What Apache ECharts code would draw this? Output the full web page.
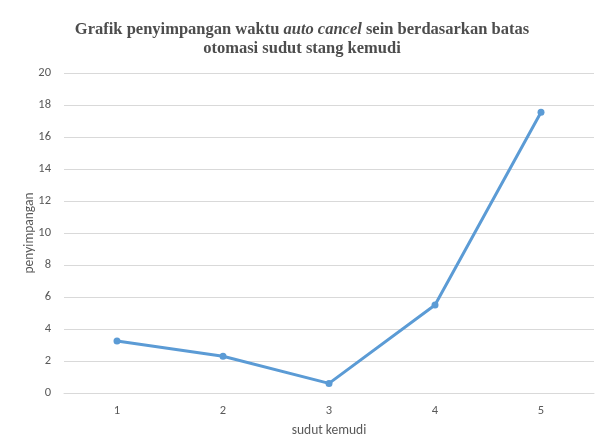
<!DOCTYPE html>
<html lang="en">
<head>
    <meta charset="UTF-8">
    <title>penyimpangan</title>
    <script src="https://cdn.jsdelivr.net/npm/echarts@6/dist/echarts.min.js"></script>
    <style>
        html,body{margin:0;padding:0;background:#fff}
        #chart{width:604px;height:448px}
    </style>
</head>
<body>
    <div id="chart"></div>
    <script>
        // data
        var categories = ['1', '2', '3', '4', '5'];
        var values = [3.25, 2.3, 0.6, 5.5, 17.55];

        var mychart = echarts.init(document.getElementById('chart'));
        var serif = '"Liberation Serif", "Times New Roman", serif';
        var sans = 'Calibri, Carlito, "Open Sans", "Noto Sans", sans-serif';
        var option = {
            animation: false,
            title: {
                text: '{b|Grafik penyimpangan waktu }{i|auto cancel}{b| sein berdasarkan batas}\n{b|otomasi sudut stang kemudi}',
                left: 'center',
                top: 15,
                textStyle: {
                    rich: {
                        b: {fontFamily: serif, fontWeight: 'bold', fontSize: 16.5, color: '#4d4d4d', lineHeight: 19},
                        i: {fontFamily: serif, fontStyle: 'italic', fontSize: 16.5, color: '#4d4d4d', lineHeight: 19}
                    }
                }
            },
            grid: {left: 64, right: 10, top: 73, bottom: 55},
            xAxis: {
                type: 'category',
                data: categories,
                boundaryGap: true,
                name: 'sudut kemudi',
                nameLocation: 'middle',
                nameGap: 31,
                nameTextStyle: {color: '#595959', fontSize: 13.5, fontFamily: sans},
                axisLine: {lineStyle: {color: '#d9d9d9'}},
                axisTick: {show: false},
                axisLabel: {color: '#595959', fontSize: 12.5, fontFamily: sans, margin: 11}
            },
            yAxis: {
                type: 'value',
                min: 0,
                max: 20,
                interval: 2,
                name: 'penyimpangan',
                nameLocation: 'middle',
                nameGap: 27,
                nameMoveOverlap: false,
                nameTextStyle: {color: '#595959', fontSize: 13.5, fontFamily: sans},
                axisLine: {show: false},
                axisTick: {show: false},
                axisLabel: {color: '#595959', fontSize: 12.5, fontFamily: sans, margin: 13},
                splitLine: {lineStyle: {color: '#d9d9d9'}}
            },
            series: [{
                type: 'line',
                data: values,
                symbol: 'circle',
                symbolSize: 7,
                lineStyle: {color: '#5b9bd5', width: 3},
                itemStyle: {color: '#5b9bd5'}
            }]
        };
        mychart.setOption(option);
    </script>
</body>
</html>
